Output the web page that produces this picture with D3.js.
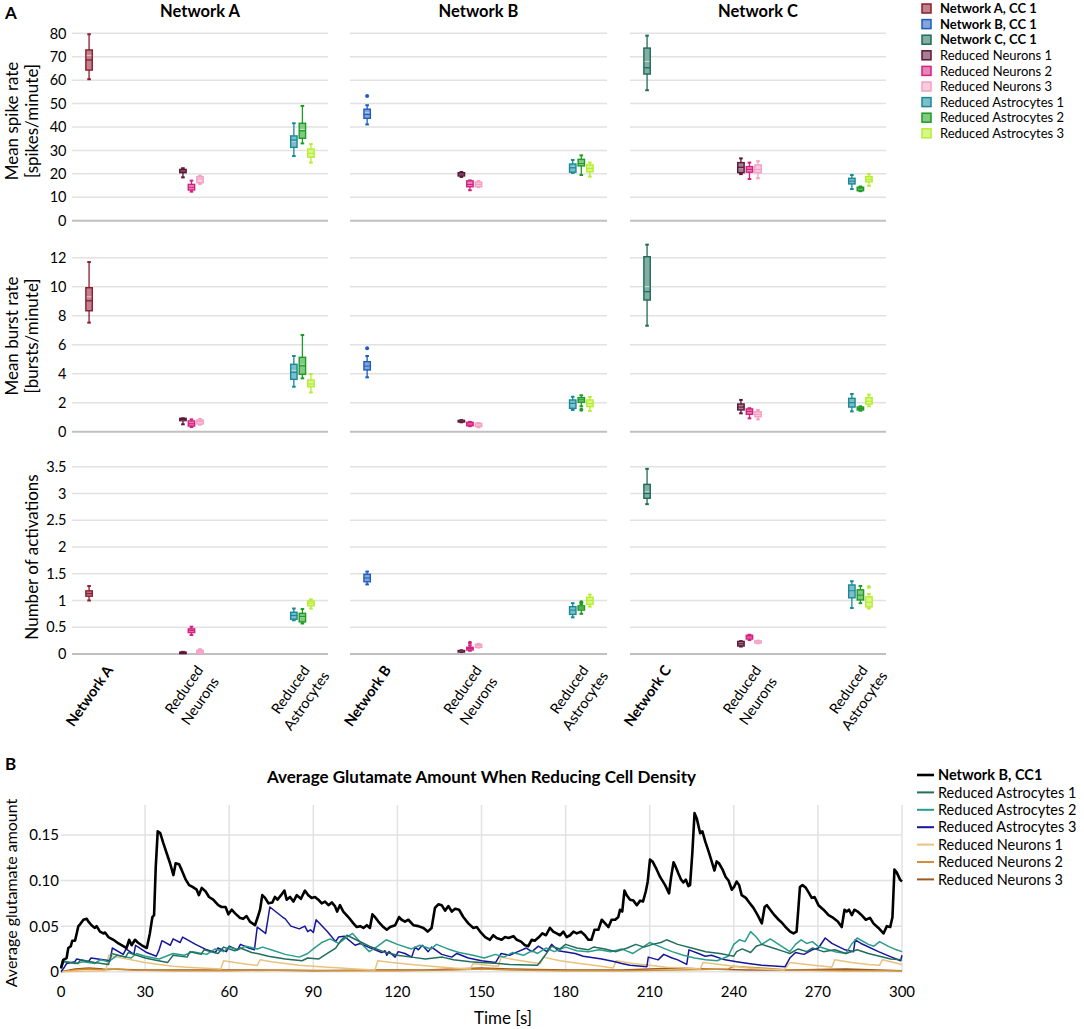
<!DOCTYPE html>
<html><head><meta charset="utf-8">
<script src="https://cdn.jsdelivr.net/npm/d3@7"></script>
<style>
body{margin:0;background:#fff}
svg{display:block}
text{font-family:Lato,"Open Sans",sans-serif;fill:#000}
</style>
</head><body>
<svg id="c" width="1084" height="1029"></svg>
<script>
// ---------------- DATA ----------------
const networks = ["Network A", "Network B", "Network C"];
const categoryKeys = ["network", "neurons", "astrocytes"];
const categoryLabelLines = [null, ["Reduced", "Neurons"], ["Reduced", "Astrocytes"]];
const legendNames = ["Network A, CC 1", "Network B, CC 1", "Network C, CC 1",
  "Reduced Neurons 1", "Reduced Neurons 2", "Reduced Neurons 3",
  "Reduced Astrocytes 1", "Reduced Astrocytes 2", "Reduced Astrocytes 3"];
const legendBold = [true, true, true, false, false, false, false, false, false];

// box rows: [panel, slot, min, q1, median, mean, q3, max]; slot 0 = network, 1-3 neurons, 4-6 astrocytes
const spikeRateStats = [
  [0,0,60.4,64.3,68.6,70.6,72.9,79.6],[0,1,18.5,20.5,21.2,21.2,21.9,22.4],[0,2,12.4,13.1,14.3,14.5,15.5,17.1],
  [0,3,15.7,16.2,17.8,17.6,18.8,19.2],[0,4,27.6,31.3,34.4,34.0,36.2,41.6],[0,5,33.0,35.2,38.4,39.0,41.6,49.0],
  [0,6,24.8,27.1,28.8,28.9,30.6,32.7],
  [1,0,41.1,43.7,45.4,46.0,47.6,49.3],[1,1,18.7,19.1,19.9,19.8,20.5,20.8],[1,2,13.0,14.5,15.5,15.6,17.0,17.2],
  [1,3,14.3,14.5,15.5,15.4,16.5,17.0],[1,4,20.4,20.7,22.6,22.8,24.2,25.9],[1,5,19.5,23.4,24.5,24.8,26.2,27.9],
  [1,6,18.8,20.9,22.3,22.4,23.8,24.8],
  [2,0,55.7,62.6,65.3,68.0,73.7,79.0],[2,1,19.9,20.5,22.8,22.6,24.8,26.6],[2,2,17.8,20.7,21.9,21.8,23.1,24.8],
  [2,3,18.1,20.5,21.9,22.0,23.8,25.4],[2,4,13.5,15.7,16.9,16.9,18.1,19.5],[2,5,12.6,12.8,13.6,13.5,14.3,14.6],
  [2,6,14.9,16.6,17.6,17.7,18.8,19.9]
];
const spikeRateOutliers = [[1,0,53.2]];

const burstRateStats = [
  [0,0,7.52,8.34,9.03,9.3,9.93,11.7],[0,1,0.51,0.76,0.85,0.82,0.92,0.92],[0,2,0.32,0.39,0.55,0.56,0.74,0.85],
  [0,3,0.48,0.53,0.70,0.68,0.81,0.88],[0,4,3.1,3.61,4.1,4.2,4.65,5.22],[0,5,3.68,3.96,4.55,4.6,5.13,6.67],
  [0,6,2.71,3.1,3.3,3.35,3.57,3.98],
  [1,0,3.75,4.26,4.53,4.55,4.83,5.22],[1,1,0.65,0.67,0.72,0.72,0.78,0.8],[1,2,0.38,0.41,0.53,0.53,0.65,0.68],
  [1,3,0.3,0.35,0.46,0.46,0.58,0.6],[1,4,1.5,1.61,1.95,1.92,2.19,2.41],[1,5,1.75,2.03,2.2,2.2,2.35,2.51],
  [1,6,1.43,1.73,1.95,1.96,2.19,2.4],
  [2,0,7.31,9.08,9.66,10.0,12.07,12.9],[2,1,1.27,1.5,1.7,1.7,1.91,2.19],[2,2,0.92,1.2,1.4,1.4,1.57,1.62],
  [2,3,0.85,1.03,1.2,1.2,1.38,1.5],[2,4,1.4,1.7,2.0,2.0,2.3,2.6],[2,5,1.45,1.5,1.6,1.6,1.7,1.75],
  [2,6,1.75,1.9,2.1,2.1,2.35,2.55]
];
const burstRateOutliers = [[1,0,5.75],[1,5,1.52]];

const activationStats = [
  [0,0,1.0,1.08,1.13,1.13,1.18,1.27],[0,1,0.02,0.025,0.03,0.03,0.035,0.04],[0,2,0.355,0.40,0.44,0.44,0.47,0.51],
  [0,3,0.0,0.02,0.04,0.04,0.07,0.09],[0,4,0.63,0.65,0.72,0.72,0.78,0.85],[0,5,0.57,0.60,0.70,0.69,0.76,0.84],
  [0,6,0.85,0.90,0.95,0.95,0.99,1.02],
  [1,0,1.30,1.35,1.42,1.42,1.49,1.54],[1,1,0.04,0.045,0.055,0.055,0.065,0.07],[1,2,0.06,0.075,0.1,0.1,0.125,0.16],
  [1,3,0.12,0.125,0.155,0.155,0.18,0.19],[1,4,0.685,0.74,0.82,0.82,0.885,0.95],[1,5,0.75,0.82,0.86,0.86,0.9,0.93],
  [1,6,0.885,0.93,1.0,1.0,1.06,1.11],
  [2,0,2.80,2.91,3.0,3.03,3.17,3.46],[2,1,0.14,0.15,0.19,0.19,0.235,0.24],[2,2,0.26,0.28,0.32,0.32,0.35,0.36],
  [2,3,0.2,0.205,0.225,0.225,0.245,0.25],[2,4,0.86,1.05,1.18,1.17,1.29,1.36],[2,5,0.95,1.01,1.1,1.1,1.2,1.27],
  [2,6,0.85,0.88,0.97,0.97,1.07,1.12]
];
const activationOutliers = [[1,2,0.21],[1,5,0.965],[2,6,1.25]];

const spikeTicks = [0,10,20,30,40,50,60,70,80];
const burstTicks = [0,2,4,6,8,10,12];
const activationTicks = [0,0.5,1,1.5,2,2.5,3,3.5];

// Panel B: average glutamate amount, [time s, value]
const glutSeriesNames = ["Network B, CC1","Reduced Astrocytes 1","Reduced Astrocytes 2","Reduced Astrocytes 3",
  "Reduced Neurons 1","Reduced Neurons 2","Reduced Neurons 3"];
const glutNetworkB = [[0,.004],[0.8,.013],[2,.015],[2.6,.026],[3.5,.028],[4,.034],[5,.034],[5.6,.042],[6.2,.05],[6.8,.052],[8,.057],[9.2,.058],[9.8,.055],[10.9,.051],[12.1,.048],[12.7,.05],[13.9,.044],[15.1,.042],[15.7,.043],[16.9,.038],[18.7,.035],[20.5,.031],[22.2,.028],[23.4,.026],[24.3,.035],[25.2,.029],[26.4,.035],[27.4,.032],[28.8,.029],[30.6,.026],[31.7,.042],[32.6,.06],[33.2,.062],[33.8,.115],[34.5,.154],[35.4,.152],[36.5,.141],[37.7,.13],[38.9,.119],[40.1,.106],[40.9,.119],[42.1,.118],[43,.112],[44.5,.101],[45.7,.095],[46.9,.093],[48.4,.09],[49.2,.084],[50.2,.092],[51.6,.088],[52.8,.082],[54.3,.079],[56.1,.073],[57.3,.071],[58.7,.071],[59.7,.063],[60.9,.068],[62.1,.064],[63.9,.059],[65,.058],[66.2,.061],[67.4,.055],[69.2,.051],[70.2,.06],[71,.068],[71.8,.084],[72.8,.081],[74,.075],[75.4,.076],[76.3,.082],[77.2,.079],[78.5,.084],[79.7,.089],[80.5,.079],[81.7,.082],[82.9,.077],[84.1,.084],[85.6,.08],[87,.089],[88.2,.084],[89.4,.081],[90.6,.082],[91.8,.079],[93,.075],[94.2,.077],[95.4,.073],[96.6,.076],[97.7,.072],[98.5,.066],[99.5,.073],[100.7,.066],[102.5,.06],[104.3,.053],[105.5,.049],[106.7,.05],[107.9,.048],[109.1,.051],[110.2,.048],[111.1,.063],[112,.06],[113.2,.055],[115,.049],[116.2,.046],[117.4,.049],[119.2,.051],[120.6,.06],[121.5,.057],[122.7,.055],[123.9,.057],[125.7,.051],[127.5,.05],[129.3,.048],[130.8,.044],[132.2,.048],[133.4,.07],[134.6,.074],[135.8,.073],[137,.067],[138.2,.072],[139.4,.066],[140.6,.069],[142,.068],[143.5,.06],[145.3,.053],[147.1,.048],[148.3,.049],[149.5,.044],[151.3,.038],[153,.035],[154.2,.04],[155.4,.037],[157.2,.035],[158.4,.038],[159.6,.037],[161.4,.039],[162.6,.035],[164.1,.033],[165.5,.029],[166.7,.028],[167.9,.035],[169,.034],[170.5,.038],[171.7,.042],[173,.04],[174.4,.048],[175.6,.044],[176.8,.042],[178,.04],[179.2,.044],[180.4,.038],[181.6,.04],[182.8,.044],[184,.042],[185.5,.044],[186.9,.04],[188.1,.035],[189.2,.035],[190.3,.046],[191.7,.046],[192.9,.057],[194.1,.053],[195.3,.049],[196.4,.057],[197.7,.057],[198.8,.06],[199.4,.068],[200.2,.066],[201,.089],[201.8,.084],[203,.079],[204.2,.078],[205.4,.073],[206.6,.078],[207.6,.077],[208.6,.088],[209.3,.099],[210.1,.123],[211,.121],[212.2,.114],[213.7,.104],[215.5,.095],[216.9,.086],[217.6,.103],[218.5,.12],[219.3,.115],[220.2,.108],[221.2,.101],[222,.098],[222.9,.101],[223.8,.094],[224.4,.095],[225.2,.13],[226,.174],[226.8,.168],[228,.152],[228.8,.154],[229.8,.143],[231,.132],[232.1,.121],[233.1,.111],[233.9,.121],[234.7,.119],[236,.112],[237.1,.104],[238.1,.1],[239.3,.09],[240.1,.093],[241,.099],[241.9,.095],[242.8,.084],[244.3,.081],[245.5,.076],[247,.07],[248.5,.062],[250,.053],[251,.071],[251.8,.073],[253,.068],[254.5,.062],[256,.057],[257.1,.054],[258.5,.049],[260.1,.044],[261.3,.042],[262.4,.044],[263,.068],[263.6,.093],[264.5,.095],[265.7,.092],[266.9,.086],[267.8,.081],[268.8,.082],[270.2,.073],[272,.068],[273.8,.062],[275.5,.059],[277.1,.055],[278.5,.049],[279.5,.068],[280.3,.066],[281.1,.068],[282.1,.062],[283,.068],[284.2,.066],[285.6,.062],[287.1,.057],[288.6,.059],[289.8,.053],[291.6,.048],[293.4,.042],[294.6,.05],[295.8,.049],[296.6,.06],[297.3,.112],[298.1,.109],[299.3,.101],[300,.099]];
const glutAstro1 = [[0,.003],[1,.011],[6,.009],[7,.013],[12,.010],[17,.008],[18,.02],[23,.016],[24,.021],[30,.015],[33,.013],[38,.010],[40,.018],[45,.016],[46,.022],[50,.019],[51,.024],[56,.02],[58,.027],[62,.023],[64,.026],[68,.021],[70,.02],[74,.017],[80,.014],[86,.012],[88,.015],[92,.014],[95,.02],[98,.026],[100,.035],[102,.04],[106,.034],[110,.028],[115,.022],[120,.018],[125,.016],[130,.014],[136,.016],[140,.013],[146,.011],[150,.01],[156,.009],[160,.008],[170,.007],[172,.015],[175,.028],[178,.025],[180,.03],[184,.026],[188,.024],[190,.027],[194,.025],[198,.022],[202,.026],[205,.03],[208,.027],[211,.03],[214,.032],[216,.035],[220,.03],[225,.026],[230,.022],[235,.02],[240,.017],[241,.022],[243,.025],[246,.021],[248,.028],[250,.03],[254,.026],[258,.022],[260,.02],[263,.025],[266,.022],[268,.026],[272,.022],[276,.024],[280,.02],[284,.024],[288,.02],[292,.017],[296,.014],[300,.013]];
const glutAstro2 = [[0,.005],[0.5,.012],[5,.009],[8,.011],[12,.009],[14,.013],[17,.011],[20,.018],[25,.015],[27,.02],[30,.017],[35,.014],[40,.02],[44,.018],[47,.022],[52,.019],[55,.025],[58,.022],[60,.027],[63,.024],[66,.028],[70,.025],[72,.027],[76,.023],[80,.019],[85,.016],[88,.02],[90,.025],[93,.032],[96,.036],[99,.031],[102,.038],[104,.042],[106,.035],[108,.028],[110,.022],[113,.028],[116,.035],[120,.03],[125,.025],[128,.029],[132,.025],[134,.03],[138,.025],[142,.021],[147,.018],[151,.015],[155,.019],[158,.016],[161,.021],[165,.018],[168,.023],[170,.02],[173,.026],[176,.022],[180,.027],[184,.023],[188,.022],[192,.024],[196,.022],[200,.025],[204,.02],[207,.026],[210,.032],[214,.027],[218,.022],[222,.018],[226,.015],[230,.013],[234,.012],[238,.017],[240,.03],[242,.035],[244,.033],[246,.044],[248,.038],[250,.03],[253,.036],[256,.03],[260,.022],[262,.03],[264,.035],[266,.031],[268,.033],[270,.028],[273,.025],[276,.022],[280,.02],[282,.03],[284,.037],[288,.03],[290,.028],[292,.033],[295,.028],[298,.024],[300,.022]];
const glutAstro3 = [[0,0],[1,.004],[2,.009],[5,.011],[5.6,.014],[9.8,.011],[10.7,.015],[17.5,.012],[18.3,.026],[22.2,.019],[23.2,.025],[26,.019],[26.6,.029],[30.6,.021],[34,.017],[35,.024],[36,.034],[39,.029],[40,.036],[42.5,.032],[43.4,.038],[48,.03],[52,.024],[55,.021],[56,.026],[59,.022],[60,.028],[63,.024],[64,.03],[67,.026],[69,.024],[70,.049],[73,.042],[74.5,.071],[79,.06],[80,.058],[82,.05],[85,.047],[87,.05],[88,.044],[89,.046],[90,.043],[91,.057],[95,.044],[98,.033],[99,.038],[101,.039],[104.9,.029],[106.7,.031],[109.6,.027],[114.4,.021],[115.6,.023],[116.2,.018],[117,.022],[119.2,.016],[120.3,.022],[122.7,.02],[125.1,.016],[126.3,.027],[127.5,.024],[128.9,.029],[131,.022],[132.2,.027],[135.8,.019],[139.4,.016],[141.2,.02],[145.3,.015],[150,.012],[155,.01],[157,.02],[160,.018],[163,.022],[166,.026],[168,.022],[170.3,.028],[173.3,.022],[175,.03],[177.4,.023],[183.4,.02],[186.3,.017],[192.9,.014],[197.6,.011],[200,.009],[203,.007],[209,.0055],[209.5,.016],[213,.013],[215,.019],[218,.015],[220,.013],[223.2,.008],[224,.024],[227.4,.02],[229.8,.017],[232,.018],[236.9,.013],[241,.011],[245.2,.009],[250,.007],[258.3,.0055],[260,.015],[262,.021],[265,.019],[268,.024],[270.2,.026],[272.6,.037],[275,.031],[279.7,.024],[282.7,.022],[283.3,.035],[285.4,.031],[291.6,.022],[296.3,.016],[299.5,.012],[300,.018]];
const glutNeurons1 = [[0,0],[16,.001],[17,.018],[20,.016],[25,.013],[30,.01],[35,.008],[40,.006],[45,.005],[50,.004],[57,.003],[58,.012],[62,.01],[67,.008],[70,.007],[71,.013],[75,.011],[80,.009],[85,.007],[90,.006],[95,.005],[100,.004],[105,.003],[112,.002],[113,.012],[118,.01],[125,.008],[132,.006],[140,.004],[146,.003],[147,.009],[152,.007],[156,.006],[157,.016],[162,.013],[168,.01],[171,.009],[172,.016],[178,.012],[185,.009],[190,.007],[195,.005],[197,.004],[198,.012],[204,.009],[210,.007],[216,.005],[222,.004],[228,.003],[229,.01],[235,.008],[240,.006],[245,.004],[250,.003],[258,.002],[260,.01],[266,.008],[272,.006],[275,.005],[276,.013],[282,.01],[288,.008],[292,.007],[293,.013],[297,.01],[300,.008]];
const glutNeurons2 = [[0,0],[5,.002],[10,.003],[15,.002],[20,.003],[25,.002],[40,.001],[60,.001],[80,.002],[100,.001],[120,.001],[140,.002],[150,.003],[160,.002],[180,.001],[200,.001],[220,.002],[238,.003],[240,.006],[245,.005],[250,.004],[260,.002],[280,.001],[300,.001]];
const glutNeurons3 = [[0,0],[5,.003],[10,.004],[15,.003],[30,.002],[50,.002],[70,.002],[90,.001],[110,.002],[130,.002],[140,.003],[150,.004],[160,.003],[180,.002],[200,.002],[210,.003],[220,.004],[230,.003],[245,.002],[260,.002],[280,.003],[300,.001]];
const glutTicks = [0, 0.05, 0.10, 0.15];
const glutTickLabels = ["0", "0.05", "0.10", "0.15"];
const timeTicks = [0,30,60,90,120,150,180,210,240,270,300];

// ---------------- STYLE / LAYOUT ----------------
const seriesColors = ["#8c1d2e","#1f5cbf","#1e6b58","#5c1738","#d4217f","#f4a0c4","#17899a","#1e9b22","#b6ee2e"];
const glutColors = ["#000000","#216e5e","#2a9c8c","#16169a","#e9c27e","#cf9036","#9e571e"];
const glutWidths = [2.6,1.5,1.5,1.5,1.5,1.5,1.5];
const panelX = [[72,328],[350,607],[630,886]];
const gridColor = "#e2e2e2", baseColor = "#c0c0c0";

const svg = d3.select("#c");
const light = c => d3.interpolateRgb(c, "#ffffff")(0.45);
function colorIndex(panel, slot){ return slot === 0 ? panel : slot + 2; }
function slotCategory(slot){ return slot === 0 ? 0 : (slot <= 3 ? 1 : 2); }

const rows = [
  {stats: spikeRateStats, out: spikeRateOutliers, ticks: spikeTicks, y: d3.scaleLinear().domain([0,80]).range([220.7,33.3]),
   title: ["Mean spike rate","[spikes/minute]"], titleY: 121},
  {stats: burstRateStats, out: burstRateOutliers, ticks: burstTicks, y: d3.scaleLinear().domain([0,12]).range([431.7,257.7]),
   title: ["Mean burst rate","[bursts/minute]"], titleY: 336},
  {stats: activationStats, out: activationOutliers, ticks: activationTicks, y: d3.scaleLinear().domain([0,3.5]).range([654,466.7]),
   title: ["Number of activations"], titleY: 557}
];

const xCats = panelX.map(r => d3.scaleBand().domain(categoryKeys).range(r));
const xSlots = xCats.map(xc => d3.scaleBand().domain(d3.range(7)).range([0, xc.bandwidth()]).paddingInner(0.25).paddingOuter(1.625));
function slotX(panel, slot){ return xCats[panel](categoryKeys[slotCategory(slot)]) + xSlots[panel](slot); }

// panel label A
svg.append("text").attr("x",5).attr("y",19).style("font-weight","bold").style("font-size","17px").text("A");
// network titles
networks.forEach((n,i)=>{
  svg.append("text").attr("x",(panelX[i][0]+panelX[i][1])/2).attr("y",17).attr("text-anchor","middle")
    .style("font-weight","bold").style("font-size","16.5px").text(n);
});

rows.forEach((row, ri) => {
  const y = row.y;
  panelX.forEach(([l,r]) => {
    row.ticks.forEach(t => {
      svg.append("line").attr("x1",l).attr("x2",r).attr("y1",y(t)).attr("y2",y(t))
        .attr("stroke", t===0 ? baseColor : gridColor).attr("stroke-width", t===0 ? 2 : 1.5);
    });
  });
  const fmt = d3.format("~g");
  row.ticks.forEach(t => {
    svg.append("text").attr("x",66.5).attr("y",y(t)).attr("dy","0.36em").attr("text-anchor","end")
      .style("font-size","14.5px").text(fmt(t));
  });
  const tg = svg.append("g").attr("transform", `translate(0,${row.titleY})`);
  row.title.forEach((s, i) => {
    const bx = row.title.length === 1 ? 38 : (i === 0 ? 18 : 38);
    tg.append("text").attr("transform", `translate(${bx},0) rotate(-90)`).attr("text-anchor","middle")
      .style("font-size","17px").text(s);
  });
  row.stats.forEach(d => {
    const [p, s, mn, q1, med, mean, q3, mx] = d;
    const col = seriesColors[colorIndex(p, s)];
    const x0 = slotX(p, s), w = xSlots[p].bandwidth(), cx = x0 + w/2;
    const g = svg.append("g");
    g.append("line").attr("x1",cx).attr("x2",cx).attr("y1",y(mx)).attr("y2",y(mn)).attr("stroke",col).attr("stroke-width",1.3);
    [mx, mn].forEach(v => g.append("line").attr("x1",cx-1.8).attr("x2",cx+1.8).attr("y1",y(v)).attr("y2",y(v))
      .attr("stroke",col).attr("stroke-width",2));
    g.append("rect").attr("x",x0).attr("y",y(q3)).attr("width",w).attr("height",Math.max(1.5, y(q1)-y(q3)))
      .attr("fill",light(col)).attr("stroke",col).attr("stroke-width",1.4);
    g.append("line").attr("x1",x0+0.8).attr("x2",x0+w-0.8).attr("y1",y(mean)).attr("y2",y(mean))
      .attr("stroke","#ffffff").attr("stroke-opacity",0.6).attr("stroke-width",1);
    g.append("line").attr("x1",x0).attr("x2",x0+w).attr("y1",y(med)).attr("y2",y(med))
      .attr("stroke",col).attr("stroke-width",1.3);
  });
  row.out.forEach(([p, s, v]) => {
    const col = seriesColors[colorIndex(p, s)];
    const cx = slotX(p, s) + xSlots[p].bandwidth()/2;
    svg.append("circle").attr("cx",cx).attr("cy",y(v)).attr("r",2).attr("fill",col);
  });
});

// category labels (rotated)
const labelShift = [-1, 4, 25];
panelX.forEach((_, pi) => {
  const xc = xCats[pi];
  categoryKeys.forEach((c, ci) => {
    const lines = ci === 0 ? [networks[pi]] : categoryLabelLines[ci];
    const ax = xc(c) + xc.bandwidth()/2 + labelShift[ci];
    const g = svg.append("g").attr("transform", `translate(${ax},670) rotate(-55)`);
    const texts = lines.map((l, i) => g.append("text").attr("y", i*19.5).attr("text-anchor","end")
      .style("font-weight", ci===0 ? "bold" : "normal").style("font-size","14.5px").text(l));
    const ws = texts.map(t => t.node().getComputedTextLength());
    const mw = Math.max(...ws);
    texts.forEach((t, i) => t.attr("x", -(mw - ws[i])/2 + (mw - ws[0])/2));
  });
});

// legend A
legendNames.forEach((n, i) => {
  const yy = 8.5 + i*15.6;
  const col = seriesColors[i];
  svg.append("rect").attr("x",922).attr("y",yy-4.5).attr("width",9).attr("height",9)
    .attr("fill",light(col)).attr("stroke",col).attr("stroke-width",1.5);
  svg.append("text").attr("x",940).attr("y",yy).attr("dy","0.36em").style("font-size","13px")
    .style("font-weight", legendBold[i] ? "bold" : "normal").text(n);
});

// ---------------- PANEL B ----------------
const xT = d3.scaleLinear().domain([0,300]).range([61,902]);
const yG = d3.scaleLinear().domain([0,0.15]).range([971.7,835]);
const plotTop = 805;
svg.append("text").attr("x",5).attr("y",770).style("font-weight","bold").style("font-size","17px").text("B");
svg.append("text").attr("x",(xT(0)+xT(300))/2).attr("y",783).attr("text-anchor","middle")
  .style("font-weight","bold").style("font-size","17px").text("Average Glutamate Amount When Reducing Cell Density");
timeTicks.filter(t => t > 0).forEach(t => {
  svg.append("line").attr("x1",xT(t)).attr("x2",xT(t)).attr("y1",plotTop).attr("y2",yG(0))
    .attr("stroke",gridColor).attr("stroke-width",1.5);
});
glutTicks.forEach(t => {
  svg.append("line").attr("x1",xT(0)).attr("x2",xT(300)).attr("y1",yG(t)).attr("y2",yG(t))
    .attr("stroke",gridColor).attr("stroke-width",1.5);
});
glutTicks.forEach((t, i) => {
  svg.append("text").attr("x",59).attr("y",yG(t)).attr("dy","0.36em").attr("text-anchor","end")
    .style("font-size","15px").text(glutTickLabels[i]);
});
timeTicks.forEach(t => {
  svg.append("text").attr("x",xT(t)).attr("y",997).attr("text-anchor","middle").style("font-size","15px").text(t);
});
svg.append("text").attr("x",503).attr("y",1024).attr("text-anchor","middle").style("font-size","17px").text("Time [s]");
svg.append("text").attr("transform","translate(17,893) rotate(-90)").attr("text-anchor","middle")
  .style("font-size","16px").text("Average glutamate amount");

const glutSeries = [glutNetworkB, glutAstro1, glutAstro2, glutAstro3, glutNeurons1, glutNeurons2, glutNeurons3];
const line = d3.line().x(d => xT(d[0])).y(d => yG(d[1]));
[6,5,4,3,2,1,0].forEach(i => {
  svg.append("path").attr("d", line(glutSeries[i])).attr("fill","none")
    .attr("stroke", glutColors[i]).attr("stroke-width", glutWidths[i]).attr("stroke-linejoin","round");
});
glutSeriesNames.forEach((n, i) => {
  const yy = 775 + i*17.4;
  svg.append("line").attr("x1",917).attr("x2",934).attr("y1",yy).attr("y2",yy)
    .attr("stroke",glutColors[i]).attr("stroke-width", i===0 ? 2.6 : 2);
  svg.append("text").attr("x",938).attr("y",yy).attr("dy","0.36em").style("font-size","14.5px")
    .style("font-weight", i===0 ? "bold" : "normal").text(n);
});
</script>
</body></html>
